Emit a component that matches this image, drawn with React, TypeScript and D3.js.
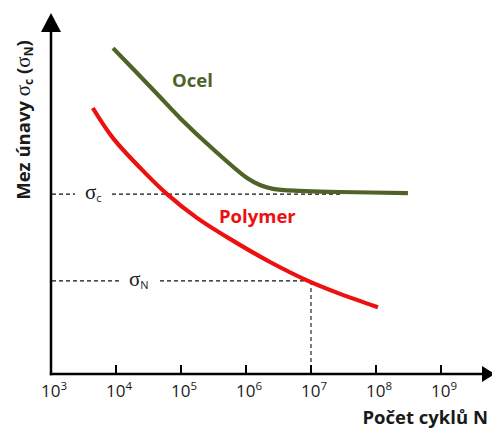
import React from "react";
import * as d3 from "d3";

// ---- data ----
const TICK_EXPONENTS = [3, 4, 5, 6, 7, 8, 9];
const STEEL_N = [9.0e3, 4.3e4, 9.7e4, 3.1e5, 1.04e6, 1.64e6, 2.6e6, 6.8e6, 2.8e7, 3.1e8];
const STEEL_S = [93.1, 80.0, 73.1, 64.3, 56.0, 54.0, 52.9, 52.3, 52.0, 51.7];
const POLY_N = [4.4e3, 9.0e3, 3.0e4, 6.1e4, 1.76e5, 5.1e5, 2.34e6, 9.0e6, 2.8e7, 1.07e8];
const POLY_S = [76.0, 67.4, 56.9, 51.4, 44.6, 39.1, 32.0, 26.6, 22.9, 19.1];
const SIGMA_C = 51.4;
const SIGMA_N = 26.6;
const N_REF = 1e7;
const SIGMA_C_END = 2.8e7;

const W = 492;
const H = 430;
const FONT = "'Open Sans', 'DejaVu Sans', sans-serif";
const SIGMA_FONT = "'Liberation Serif', 'DejaVu Serif', serif";
const STEEL_COLOR = "#4f6228";
const POLY_COLOR = "#ec1010";
const AXIS_COLOR = "#000";
const TEXT_COLOR = "#1a1a1a";

export default function App() {
  const x = d3.scaleLog().domain([1e3, 1e9]).range([51, 441]);
  const y = d3.scaleLinear().domain([0, 100]).range([374, 24]);
  const x0 = x(1e3);
  const y0 = y(0);

  const line = d3
    .line<[number, number]>()
    .x((d) => x(d[0]))
    .y((d) => y(d[1]))
    .curve(d3.curveCatmullRom.alpha(0.5));

  const steel: [number, number][] = STEEL_N.map((n, i) => [n, STEEL_S[i]]);
  const poly: [number, number][] = POLY_N.map((n, i) => [n, POLY_S[i]]);

  const yc = y(SIGMA_C);
  const yn = y(SIGMA_N);

  return (
    <svg
      width={W}
      height={H}
      style={{ position: "absolute", left: 0, top: 0, background: "#fff" }}
    >
      {/* dashed reference lines */}
      <g stroke="#111" strokeWidth={1.1} strokeDasharray="4 3" fill="none">
        <line x1={x0 + 1} x2={x0 + 24} y1={yc} y2={yc} />
        <line x1={x0 + 61} x2={x(SIGMA_C_END)} y1={yc} y2={yc} />
        <line x1={x0 + 1} x2={x0 + 69} y1={yn} y2={yn} />
        <line x1={x0 + 109} x2={x(N_REF)} y1={yn} y2={yn} />
        <line x1={x(N_REF)} x2={x(N_REF)} y1={yn} y2={y0} />
      </g>

      {/* curves */}
      <path d={line(steel) || ""} fill="none" stroke={STEEL_COLOR} strokeWidth={4.2} strokeLinecap="butt" />
      <path d={line(poly) || ""} fill="none" stroke={POLY_COLOR} strokeWidth={4.2} strokeLinecap="butt" />

      {/* axes */}
      <g stroke={AXIS_COLOR} strokeWidth={2.5}>
        <line x1={x0} x2={x0} y1={y0 + 1.2} y2={28} />
        <line x1={x0 - 1.2} x2={484} y1={y0} y2={y0} />
        {TICK_EXPONENTS.filter((e) => e > 3).map((e) => (
          <line key={e} x1={x(10 ** e)} x2={x(10 ** e)} y1={y0} y2={y0 - 9} strokeWidth={2} />
        ))}
      </g>
      <path d={`M${x0},13 L${x0 - 10},32 L${x0 + 10},32 Z`} fill={AXIS_COLOR} />
      <path d={`M495,${y0} L482,${y0 - 8} L482,${y0 + 8} Z`} fill={AXIS_COLOR} />

      {/* tick labels */}
      <g fontFamily={FONT} fill={TEXT_COLOR}>
        {TICK_EXPONENTS.map((e) => (
          <text key={e} x={x(10 ** e) - 10} y={397} fontSize={17}>
            10
            <tspan dy={-7} fontSize={11.5}>
              {e}
            </tspan>
          </text>
        ))}
      </g>

      {/* sigma labels */}
      <g fill={TEXT_COLOR}>
        <text x={x0 + 34} y={yc + 5} fontSize={21} fontFamily={SIGMA_FONT}>
          σ<tspan dy={3} fontSize={11} fontFamily={FONT}>c</tspan>
        </text>
        <text x={x0 + 78} y={yn + 5} fontSize={21} fontFamily={SIGMA_FONT}>
          σ<tspan dy={3} fontSize={11} fontFamily={FONT}>N</tspan>
        </text>
      </g>

      {/* series labels */}
      <text x={172} y={87} fontFamily={FONT} fontWeight={700} fontSize={18.5} fill={STEEL_COLOR}>
        Ocel
      </text>
      <text x={219} y={223} fontFamily={FONT} fontWeight={700} fontSize={18.5} fill={POLY_COLOR}>
        Polymer
      </text>

      {/* axis titles */}
      <text
        x={488}
        y={424}
        textAnchor="end"
        fontFamily={FONT}
        fontWeight={700}
        fontSize={18.5}
        fill={TEXT_COLOR}
      >
        Počet cyklů N
      </text>
      <text
        transform="translate(30,120) rotate(-90)"
        textAnchor="middle"
        fontFamily={FONT}
        fontWeight={700}
        fontSize={18.5}
        fill={TEXT_COLOR}
      >
        Mez únavy <tspan fontFamily={SIGMA_FONT} fontWeight={400} fontSize={21}>σ</tspan>
        <tspan dy={3} fontSize={12}>c</tspan>
        <tspan dy={-3}> (</tspan>
        <tspan fontFamily={SIGMA_FONT} fontWeight={400} fontSize={21}>σ</tspan>
        <tspan dy={3} fontSize={12}>N</tspan>
        <tspan dy={-3}>)</tspan>
      </text>
    </svg>
  );
}
